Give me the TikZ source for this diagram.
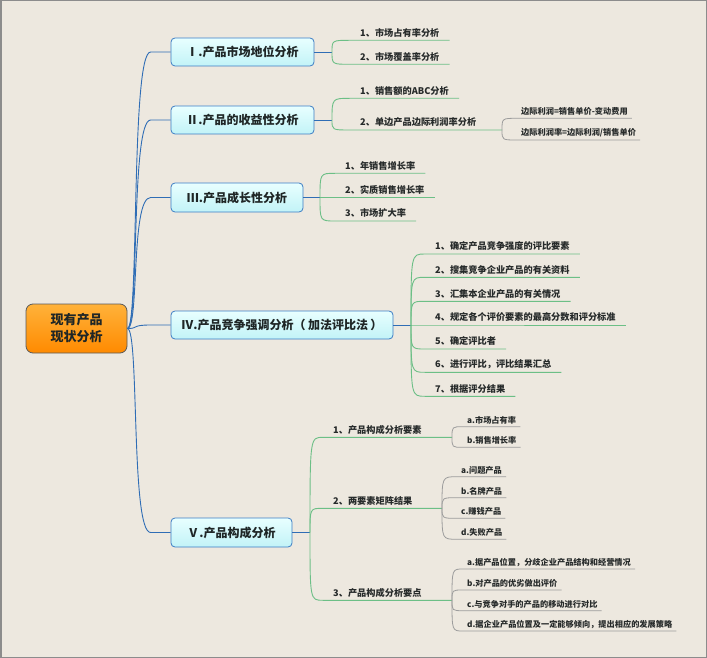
\documentclass[tikz,border=0pt]{standalone}
\usepackage{fontspec}
\setmainfont{Noto Sans CJK SC}
\usetikzlibrary{calc}
\definecolor{bgc}{HTML}{EDE8DF}
\definecolor{framec}{HTML}{8C8C8C}
\definecolor{linkblue}{HTML}{2F6DB5}
\definecolor{boxdraw}{HTML}{3C7DC4}
\definecolor{cyanT}{HTML}{E8FFFF}
\definecolor{cyanB}{HTML}{C2F3F7}
\definecolor{orangeT}{HTML}{FFB23A}
\definecolor{orangeB}{HTML}{FF8A00}
\definecolor{rootdraw}{HTML}{5A5A5A}
\definecolor{linkgreen}{HTML}{6CBF86}
\definecolor{linkgray}{HTML}{9C9C9C}
\definecolor{txt}{HTML}{1F2626}
\definecolor{subtxt}{HTML}{262A2A}
\tikzset{
 rootbox/.style={draw=rootdraw, line width=0.8pt, rounded corners=7pt, top color=orangeT, bottom color=orangeB,
   minimum width=101pt, minimum height=49pt, align=center, inner sep=0pt,
   font=\fontsize{13}{17}\selectfont\bfseries, text=txt},
 topic/.style={draw=boxdraw, line width=0.8pt, rounded corners=4pt, top color=cyanT, bottom color=cyanB,
   minimum height=28pt, inner sep=0pt, font=\fontsize{12}{14}\selectfont\bfseries, text=txt},
 sub/.style={anchor=south west, inner xsep=10pt, inner ysep=3pt,
   font=\fontsize{9.2}{11}\selectfont\bfseries, text=subtxt},
 leaf/.style={anchor=south west, inner xsep=4pt, inner ysep=2.5pt,
   font=\fontsize{8.2}{10}\selectfont\bfseries, text=subtxt},
 bl/.style={draw=linkblue, line width=0.9pt},
 gl/.style={draw=linkgreen, line width=0.9pt},
 gyl/.style={draw=linkgray, line width=0.8pt},
}
\begin{document}
\begin{tikzpicture}[x=1pt,y=-1pt]
\useasboundingbox (0,0) rectangle (707,658);
\fill[bgc] (0,0) rectangle (707,658);
\draw[framec, line width=1.5pt] (0.75,0.75) rectangle (706.25,657.25);

% root and topics
\node[rootbox] (root) at (76.5,328.5) {现有产品\\现状分析};
\node[topic, minimum width=143pt] (b1) at (242.5,52) {Ⅰ.产品市场地位分析};
\node[topic, minimum width=143pt] (b2) at (242.5,120) {Ⅱ.产品的收益性分析};
\node[topic, minimum width=132pt, minimum height=29pt] (b3) at (237,197.5) {Ⅲ.产品成长性分析};
\node[topic, minimum width=222pt] (b4) at (282,325) {Ⅳ.产品竞争强调分析（\hspace{0.2em}加法评比法\hspace{0.2em}）};
\node[topic, minimum width=121pt, minimum height=29pt] (b5) at (231.5,532.5) {Ⅴ.产品构成分析};

\foreach \b in {b1,b2,b3,b4,b5}{
  \draw[bl] (root.east) .. controls ($(root.east)+(12,0)$) and ($(\b.west)+(-40,0)$) .. ($(\b.west)+(-20,0)$) -- (\b.west);
}

% junctions
\coordinate (j1) at (332,52);
\coordinate (j2) at (332,120);
\coordinate (j3) at (320,197.5);
\coordinate (j4) at (411,325);
\coordinate (j5) at (310,532.5);
\foreach \b/\j in {b1/j1,b2/j2,b3/j3,b4/j4,b5/j5}{ \draw[bl] (\b.east) -- (\j); }

% I
\node[sub] (s11) at (350,40.3) {1、市场占有率分析};
\node[sub] (s12) at (350,64.3) {2、市场覆盖率分析};
% II
\node[sub] (s21) at (350,98.3) {1、销售额的ABC分析};
\node[sub] (s22) at (350,130) {2、单边产品边际利润率分析};
\coordinate (j22) at (502,130);
\node[leaf] (l221) at (517,118.3) {边际利润=销售单价-变动费用};
\node[leaf] (l222) at (517,140) {边际利润率=边际利润/销售单价};
% III
\node[sub] (s31) at (335,173.3) {1、年销售增长率};
\node[sub] (s32) at (335,197.5) {2、实质销售增长率};
\node[sub] (s33) at (335,221) {3、市场扩大率};
% IV
\node[sub] (s41) at (425,254) {1、确定产品竞争强度的评比要素};
\node[sub] (s42) at (425,277.3) {2、搜集竞争企业产品的有关资料};
\node[sub] (s43) at (425,301.3) {3、汇集本企业产品的有关情况};
\node[sub] (s44) at (425,325) {4、规定各个评价要素的最高分数和评分标准};
\node[sub] (s45) at (425,349) {5、确定评比者};
\node[sub] (s46) at (425,372.3) {6、进行评比，评比结果汇总};
\node[sub] (s47) at (425,396.3) {7、根据评分结果};
% V
\node[sub] (s51) at (323,437.3) {1、产品构成分析要素};
\node[sub] (s52) at (323,508.3) {2、两要素矩阵结果};
\node[sub] (s53) at (323,600.3) {3、产品构成分析要点};
\coordinate (j51) at (452,437.3);
\coordinate (j52) at (442,508.3);
\coordinate (j53) at (452,600.3);
\node[leaf] (l511) at (463,426.7) {a.市场占有率};
\node[leaf] (l512) at (463,447.3) {b.销售增长率};
\node[leaf] (l521) at (457,476.7) {a.问题产品};
\node[leaf] (l522) at (457,497.7) {b.名牌产品};
\node[leaf] (l523) at (457,518.3) {c.赚钱产品};
\node[leaf] (l524) at (457,539.3) {d.失败产品};
\node[leaf] (l531) at (463,569) {a.据产品位置，分歧企业产品结构和经营情况};
\node[leaf] (l532) at (463,590) {b.对产品的优劣做出评价};
\node[leaf] (l533) at (463,610.7) {c.与竞争对手的产品的移动进行对比};
\node[leaf] (l534) at (463,631) {d.据企业产品位置及一定能够倾向，提出相应的发展策略};

% green connectors (plain children)
\foreach \j/\s in {j1/s11,j1/s12,j2/s21,j3/s31,j3/s32,j3/s33,j4/s41,j4/s42,j4/s43,j4/s44,j4/s45,j4/s46,j4/s47}{
  \draw[gl] (\j) .. controls (\j |- \s.south west) .. (\s.south west) -- (\s.south east);
}
% green connectors with sub-junctions
\foreach \j/\s/\k in {j2/s22/j22,j5/s51/j51,j5/s52/j52,j5/s53/j53}{
  \draw[gl] (\j) .. controls (\j |- \s.south west) .. (\s.south west) -- (\k);
}
% gray connectors
\foreach \j/\s in {j22/l221,j22/l222,j51/l511,j51/l512,j52/l521,j52/l522,j52/l523,j52/l524,j53/l531,j53/l532,j53/l533,j53/l534}{
  \draw[gyl] (\j) .. controls (\j |- \s.south west) .. (\s.south west) -- (\s.south east);
}
\end{tikzpicture}
\end{document}
